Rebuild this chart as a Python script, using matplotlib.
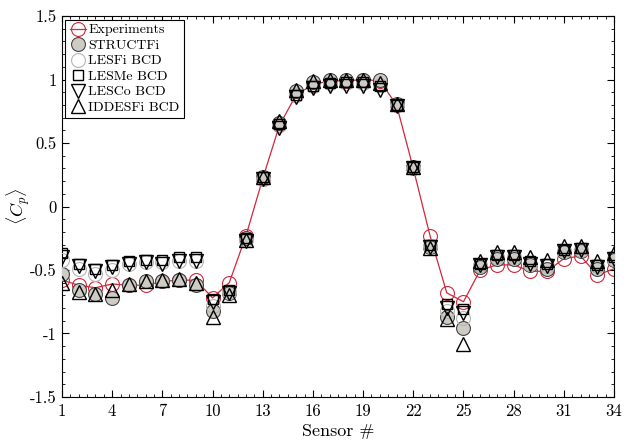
import matplotlib
matplotlib.use("Agg")
import matplotlib.pyplot as plt
import numpy as np

plt.rcParams["font.family"] = ["cmr10", "DejaVu Serif"]
plt.rcParams["mathtext.fontset"] = "cm"
plt.rcParams["axes.unicode_minus"] = False

sensors = np.arange(1, 35)

exp = [-0.58, -0.62, -0.64, -0.61, -0.62, -0.62, -0.59, -0.58, -0.58, -0.72,
       -0.60, -0.23, 0.22, 0.64, 0.88, 0.96, 0.99, 0.99, 1.00, 0.99,
       0.80, 0.30, -0.23, -0.68, -0.75, -0.50, -0.46, -0.46, -0.51, -0.51,
       -0.41, -0.39, -0.54, -0.49]
structfi = [-0.53, -0.66, -0.69, -0.72, -0.62, -0.59, -0.59, -0.58, -0.62, -0.82,
            -0.68, -0.25, 0.23, 0.66, 0.91, 0.98, 1.00, 1.00, 1.00, 1.00,
            0.81, 0.31, -0.32, -0.87, -0.96, -0.48, -0.41, -0.41, -0.46, -0.49,
            -0.36, -0.35, -0.49, -0.42]
lesfi = [-0.42, -0.49, -0.53, -0.50, -0.45, -0.44, -0.44, -0.43, -0.43, -0.78,
         -0.67, -0.26, 0.22, 0.64, 0.88, 0.95, 0.97, 0.97, 0.97, 0.96,
         0.80, 0.30, -0.31, -0.82, -0.88, -0.46, -0.40, -0.40, -0.45, -0.47,
         -0.35, -0.34, -0.47, -0.41]
lesme = [-0.37, -0.45, -0.49, -0.46, -0.43, -0.42, -0.42, -0.40, -0.40, -0.73,
         -0.66, -0.25, 0.23, 0.65, 0.88, 0.95, 0.97, 0.98, 0.98, 0.95,
         0.80, 0.31, -0.30, -0.77, -0.81, -0.45, -0.38, -0.38, -0.43, -0.45,
         -0.34, -0.33, -0.46, -0.40]
lesco = [-0.40, -0.47, -0.51, -0.48, -0.45, -0.44, -0.45, -0.43, -0.43, -0.75,
         -0.68, -0.27, 0.22, 0.62, 0.86, 0.93, 0.95, 0.95, 0.95, 0.92,
         0.79, 0.30, -0.32, -0.80, -0.84, -0.46, -0.40, -0.40, -0.45, -0.47,
         -0.35, -0.34, -0.48, -0.41]
iddesfi = [-0.60, -0.67, -0.69, -0.66, -0.61, -0.59, -0.58, -0.57, -0.60, -0.87,
           -0.70, -0.26, 0.23, 0.67, 0.92, 0.99, 1.00, 1.00, 1.00, 0.97,
           0.81, 0.31, -0.33, -0.89, -1.08, -0.43, -0.36, -0.36, -0.40, -0.42,
           -0.31, -0.31, -0.43, -0.37]

xticks = [1, 4, 7, 10, 13, 16, 19, 22, 25, 28, 31, 34]
yticks = [-1.5, -1, -0.5, 0, 0.5, 1, 1.5]
ylabels = ["-1.5", "-1", "-0.5", "0", "0.5", "1", "1.5"]

fig = plt.figure(figsize=(6.35, 4.47), dpi=100)
ax = fig.add_axes([0.0976, 0.112, 0.8694, 0.852])

ax.plot(sensors, exp, "-o", color="#d0283a", lw=0.9, ms=10, mfc="none",
        mew=0.8, label="Experiments", zorder=2)
ax.plot(sensors, structfi, "o", ls="none", ms=10, mfc="#cdcbc4", mec="#444444",
        mew=0.8, label="STRUCTFi", zorder=3)
ax.plot(sensors, lesfi, "o", ls="none", ms=10, mfc="none", mec="#b5b5b5",
        mew=0.8, label="LESFi BCD", zorder=3)
ax.plot(sensors, lesme, "s", ls="none", ms=7, mfc="none", mec="black",
        mew=1.0, label="LESMe BCD", zorder=4)
ax.plot(sensors, lesco, "v", ls="none", ms=10, mfc="none", mec="black",
        mew=1.0, label="LESCo BCD", zorder=4)
ax.plot(sensors, iddesfi, "^", ls="none", ms=10, mfc="none", mec="black",
        mew=1.0, label="IDDESFi BCD", zorder=4)

ax.set_xlim(1, 34)
ax.set_ylim(-1.5, 1.5)
ax.set_xticks(xticks)
ax.set_yticks(yticks)
ax.set_yticklabels(ylabels)
ax.set_xticks(np.arange(1, 34.01, 0.5), minor=True)
ax.set_yticks(np.arange(-1.5, 1.501, 0.1), minor=True)
ax.tick_params(which="both", direction="in", top=True, right=True, labelsize=12)
ax.tick_params(axis="x", which="major", pad=5)
ax.tick_params(which="major", length=5, width=0.8)
ax.tick_params(which="minor", length=2.5, width=0.6)
for s in ax.spines.values():
    s.set_linewidth(0.8)

ax.set_xlabel("Sensor #", fontsize=13, labelpad=3)
ax.set_ylabel(r"$\langle C_p \rangle$", fontsize=13)
ax.yaxis.set_label_coords(-0.054, 0.5)

leg = ax.legend(loc="upper left", fontsize=10, frameon=True, fancybox=False,
                edgecolor="black", framealpha=1, handlelength=1.2,
                handletextpad=0.15, borderpad=0.3, labelspacing=0.2,
                borderaxespad=0.25)
leg.get_frame().set_linewidth(0.8)

fig.savefig("out.png", dpi=100)
